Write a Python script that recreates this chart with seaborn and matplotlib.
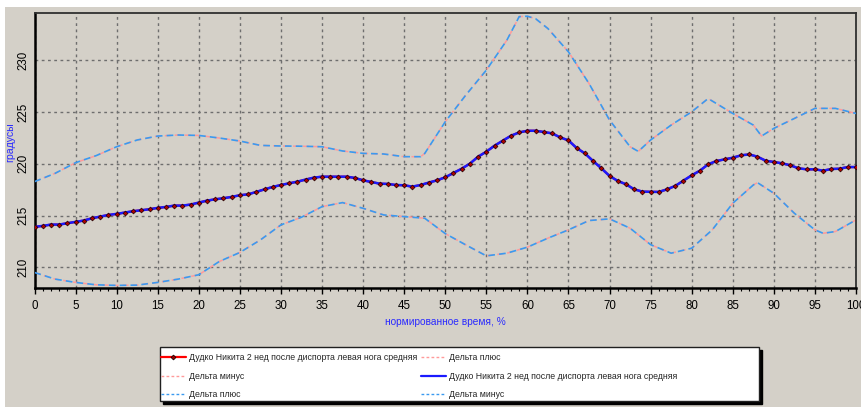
import numpy as np
import pandas as pd
import seaborn as sns
import matplotlib
matplotlib.use("Agg")
import matplotlib.pyplot as plt
from matplotlib.patches import Rectangle
from matplotlib.lines import Line2D
from matplotlib.ticker import MultipleLocator

# ---------------- data ----------------
time_pct = list(range(0, 101))
mean_deg = [
    213.92, 214.01, 214.14, 214.14, 214.27, 214.40, 214.53, 214.75, 214.91, 215.07,
    215.17, 215.30, 215.43, 215.52, 215.62, 215.75, 215.84, 215.97, 215.97, 216.07,
    216.26, 216.45, 216.58, 216.68, 216.81, 216.97, 217.06, 217.29, 217.54, 217.77,
    217.96, 218.12, 218.28, 218.48, 218.67, 218.76, 218.76, 218.76, 218.76, 218.64,
    218.41, 218.25, 218.09, 218.06, 217.96, 217.93, 217.80, 217.96, 218.19, 218.41,
    218.70, 219.12, 219.53, 220.02, 220.69, 221.17, 221.75, 222.23, 222.71, 223.03,
    223.19, 223.19, 223.07, 222.94, 222.55, 222.26, 221.52, 221.01, 220.27, 219.57,
    218.83, 218.35, 218.03, 217.54, 217.32, 217.30, 217.29, 217.54, 217.87, 218.38,
    218.89, 219.34, 219.95, 220.27, 220.43, 220.59, 220.82, 220.91, 220.69, 220.30,
    220.18, 220.05, 219.86, 219.57, 219.47, 219.47, 219.34, 219.50, 219.53, 219.69,
    219.69,
]

plus_x = [0, 2.5, 5, 7.5, 10, 12.5, 15, 17.5, 20, 22.5, 25, 27.5, 30, 32.5, 35, 37.5,
          40, 42.5, 45, 47, 47.5, 50, 52.5, 55, 57.5, 59, 60, 61, 62.5, 65, 67.5, 70,
          72.5, 73.5, 75, 77.5, 80, 82, 85, 87.5, 88.5, 90, 92.5, 95, 97.5, 100]
plus_deg = [218.28, 219.08, 220.11, 220.79, 221.65, 222.30, 222.68, 222.78, 222.74,
            222.49, 222.20, 221.78, 221.72, 221.70, 221.65, 221.24, 221.01, 220.95,
            220.69, 220.69, 221.00, 224.06, 226.63, 229.04, 231.93, 234.20, 234.24,
            234.00, 233.05, 230.80, 227.75, 224.22, 221.65, 221.20, 222.30, 223.74,
            225.02, 226.30, 224.86, 223.74, 222.68, 223.42, 224.38, 225.35, 225.35,
            224.86]

minus_x = [0, 2.5, 5, 7.5, 10, 12.5, 15, 17.5, 20, 22.5, 25, 27.5, 30, 32.5, 35, 37.5,
           40, 42.5, 45, 47.5, 50, 52.5, 55, 57.5, 60, 62.5, 65, 67.5, 70, 72.5, 75,
           77.5, 80, 82.5, 85, 87.5, 88, 90, 92.5, 95, 96, 97.5, 100]
minus_deg = [209.52, 208.88, 208.56, 208.33, 208.27, 208.30, 208.56, 208.88, 209.30,
             210.58, 211.45, 212.66, 214.11, 214.85, 215.87, 216.26, 215.71, 215.07,
             214.91, 214.75, 213.27, 212.18, 211.12, 211.38, 211.96, 212.83, 213.63,
             214.53, 214.69, 213.79, 212.20, 211.38, 211.86, 213.63, 216.20, 217.96,
             218.19, 217.16, 215.23, 213.63, 213.30, 213.47, 214.59]

series_name = "Дудко Никита 2 нед после диспорта левая нога средняя"
plus_name = "Дельта плюс"
minus_name = "Дельта минус"
x_label = "нормированное время, %"
y_label = "градусы"

# ---------------- style ----------------
sns.set_style("ticks")
plt.rcParams["font.family"] = ["Liberation Sans", "DejaVu Sans"]

BG = "#d4d0c8"
RED = "#ff0000"
PINK = "#ff9a9a"
BLUE = "#1a1aff"
LBLUE = "#3a9af0"
TXTBLUE = "#2a2aff"
W, H = 862, 407

fig = plt.figure(figsize=(W / 100, H / 100), dpi=100, facecolor="white")
fig.patches.append(Rectangle((5 / W, 0), 1, 1 - 7 / H, transform=fig.transFigure,
                             facecolor=BG, edgecolor="none", zorder=-10))
ax = fig.add_axes([34.5 / W, 1 - 287.7 / H, (856 - 34.5) / W, (287.7 - 12.5) / H])
ax.set_facecolor(BG)

dash = (0, (4, 2.5))
# red deltas (lie under the blue ones)
sns.lineplot(x=plus_x, y=plus_deg, ax=ax, color=PINK, linewidth=1.1, linestyle=dash, zorder=2)
sns.lineplot(x=minus_x, y=minus_deg, ax=ax, color=PINK, linewidth=1.1, linestyle=dash, zorder=2)
# red mean
sns.lineplot(x=time_pct, y=mean_deg, ax=ax, color=RED, linewidth=1.6, zorder=3)
# blue deltas
sns.lineplot(x=plus_x, y=plus_deg, ax=ax, color=LBLUE, linewidth=1.2, linestyle=dash, zorder=3)
sns.lineplot(x=minus_x, y=minus_deg, ax=ax, color=LBLUE, linewidth=1.2, linestyle=dash, zorder=3)
# blue mean
sns.lineplot(x=time_pct, y=mean_deg, ax=ax, color=BLUE, linewidth=1.8, zorder=4)
# markers of red series on top
sns.scatterplot(x=time_pct, y=mean_deg, ax=ax, marker="D", s=6, color="#b00000",
                edgecolor="#200000", linewidth=0.5, zorder=5)

ax.set_xlim(0, 100)
ax.set_ylim(208.05, 234.6)
ax.xaxis.set_major_locator(MultipleLocator(5))
ax.xaxis.set_minor_locator(MultipleLocator(1))
ax.yaxis.set_major_locator(MultipleLocator(5))
ax.grid(True, which="major", color="#6e6e6e", linestyle=(0, (2, 2.5)), linewidth=1.0)
ax.set_axisbelow(True)

ax.tick_params(axis="x", which="major", direction="out", length=4, width=1, pad=5,
               labelsize=8.3, colors="black")
ax.tick_params(axis="x", which="minor", direction="out", length=2.5, width=0.8, colors="black")
ax.tick_params(axis="y", which="both", length=0, pad=4, labelsize=8.3, colors="black")
for t in ax.get_yticklabels():
    t.set_rotation(90)
    t.set_va("center")

for s in ["left", "bottom"]:
    ax.spines[s].set_color("black")
    ax.spines[s].set_linewidth(1.8)
for s in ["top", "right"]:
    ax.spines[s].set_color("#303030")
    ax.spines[s].set_linewidth(1.3)

ax.set_xlabel(x_label, color=TXTBLUE, fontsize=7.3)
ax.xaxis.set_label_coords(0.5, -0.108)
ax.set_ylabel(y_label, color=TXTBLUE, fontsize=7.6)
ax.yaxis.set_label_coords(-0.0235, 0.53)

# legend box with black shadow
lx0, ly0, lx1, ly1 = 160, 347, 759, 401
fig.patches.append(Rectangle(((lx0 + 3) / W, 1 - (ly1 + 3) / H), (lx1 - lx0) / W, (ly1 - ly0) / H,
                             transform=fig.transFigure, facecolor="black", edgecolor="black",
                             zorder=1))
fig.patches.append(Rectangle((lx0 / W, 1 - ly1 / H), (lx1 - lx0) / W, (ly1 - ly0) / H,
                             transform=fig.transFigure, facecolor="white", edgecolor="#202020",
                             linewidth=1.0, zorder=2))

h_red = Line2D([0, 0.5, 1], [0, 0, 0], color=RED, linewidth=1.6, marker="D", markersize=2.5,
               markerfacecolor="#a00000", markeredgecolor="black", markeredgewidth=0.5,
               markevery=[1])
h_pp = Line2D([], [], color=PINK, linewidth=1.0, linestyle=(0, (2, 1.6)))
h_pm = Line2D([], [], color=PINK, linewidth=1.0, linestyle=(0, (2, 1.6)))
h_blue = Line2D([], [], color=BLUE, linewidth=1.6)
h_bp = Line2D([], [], color=LBLUE, linewidth=1.0, linestyle=(0, (2, 1.6)))
h_bm = Line2D([], [], color=LBLUE, linewidth=1.0, linestyle=(0, (2, 1.6)))

handles = [h_red, h_pm, h_bp, h_pp, h_blue, h_bm]
labels = [series_name, minus_name, plus_name, plus_name, series_name, minus_name]
fs_leg = 6.3
fs_px = fs_leg * 100 / 72
leg = fig.legend(handles, labels, ncol=2, loc="upper left",
                 bbox_to_anchor=(161 / W, 1 - 353.5 / H), bbox_transform=fig.transFigure,
                 frameon=False, fontsize=fs_leg, handlelength=25 / fs_px,
                 handletextpad=3 / fs_px, columnspacing=4 / fs_px, labelspacing=9.3 / fs_px,
                 borderpad=0, borderaxespad=0)
leg.set_zorder(5)

fig.savefig("out.png", dpi=100, facecolor=fig.get_facecolor())
